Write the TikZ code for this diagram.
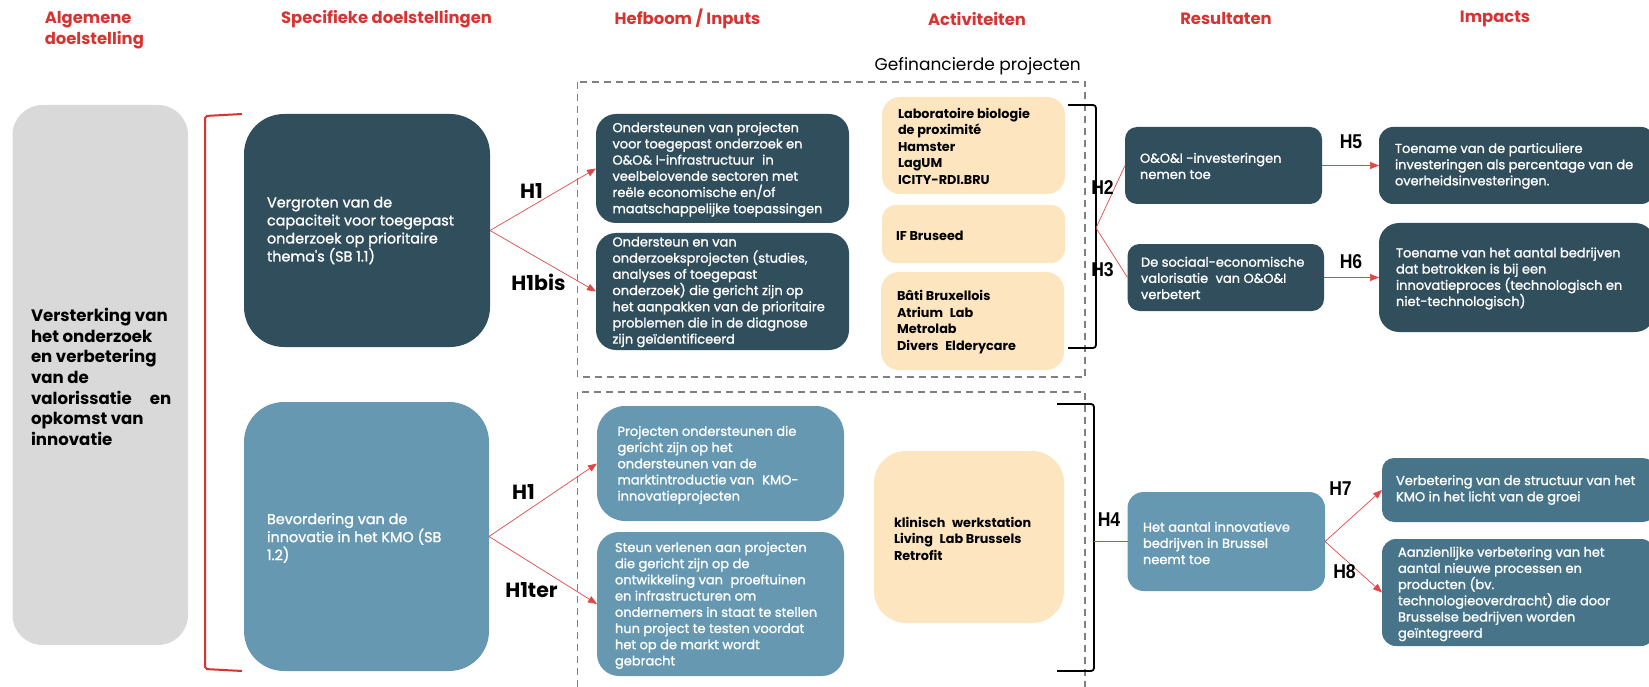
\documentclass[tikz,border=0pt]{standalone}
\usepackage{fontspec}
\setmainfont{Poppins}
\newfontfamily\wf{Poppins}[FakeBold=1.3]
\newfontfamily\hfont{Liberation Sans}[FakeStretch=0.88]
\usetikzlibrary{arrows.meta}
\definecolor{dteal}{RGB}{49,78,92}
\definecolor{lblue}{RGB}{102,153,177}
\definecolor{mteal}{RGB}{72,116,137}
\definecolor{beige}{RGB}{252,229,191}
\definecolor{lgray}{RGB}{217,217,217}
\definecolor{hred}{RGB}{214,52,50}
\definecolor{lred}{RGB}{222,72,72}
\definecolor{dgray}{RGB}{128,128,128}
\begin{document}
\begin{tikzpicture}[x=1pt,y=-1pt,
  bx/.style={rectangle, inner sep=0pt, outer sep=0pt},
  txt/.style={align=left, anchor=west, inner sep=0pt, outer sep=0pt},
  wsb/.style={txt, text=white, font=\wf\fontsize{14.4}{18}\selectfont},
  wa/.style={txt, text=white, font=\wf\fontsize{13}{16.2}\selectfont},
  bb/.style={txt, text=black, font=\bfseries\fontsize{12.8}{16.5}\selectfont},
  hdr/.style={text=hred, font=\bfseries\fontsize{16.4}{21}\selectfont, inner sep=0pt},
  hl/.style={font=\bfseries\fontsize{20.5}{22}\selectfont, inner sep=0pt},
  hn/.style={font=\hfont\bfseries\fontsize{20}{22}\selectfont, inner sep=0pt},
  conn/.style={draw=lred, line width=0.7pt},
  arr/.style={conn, -{Triangle[length=9pt,width=7pt]}},
  brk/.style={draw=black, line width=1.8pt, rounded corners=3pt},
  dbox/.style={draw=dgray, line width=1.1pt, dash pattern=on 7pt off 5pt},
]
\useasboundingbox (0,0) rectangle (1649,687);
\clip (0,0) rectangle (1649,687);

% headers
\node[hdr, align=left, anchor=west] (h0) at (44.6,30.5) {Algemene\\doelstelling};
\node[hdr] (h1) at (386.5,19) {Specifieke doelstellingen};
\node[hdr] (h2) at (687.5,19) {Hefboom / Inputs};
\node[hdr] (h3) at (977,19) {Activiteiten};
\node[hdr] (h4) at (1226,19) {Resultaten};
\node[hdr] (h5) at (1495,19) {Impacts};

% dashed frames
\draw[dbox] (577.5,82) rectangle (1085,377);
\draw[dbox] (577.5,392) rectangle (1085,700);
\node[font=\fontsize{17}{19}\selectfont, anchor=east, inner sep=0pt] (gp) at (1081,66) {Gefinancierde projecten};

% general objective
\node[bx, fill=lgray, rounded corners=30pt, minimum width=175.5pt, minimum height=540pt] (g) at (100.25,375) {};
\node[txt, font=\bfseries\fontsize{16.6}{20.7}\selectfont] (gt) at (31,377) {Versterking van\\het onderzoek\\en verbetering\\van de\\valorissatie\hspace{18pt}en\\opkomst van\\innovatie};

% red bracket
\draw[draw=hred, line width=2pt, rounded corners=2pt] (242,114) -- (205,116) -- (205,669) -- (242,671);

% specific objectives
\node[bx, fill=dteal, rounded corners=40pt, minimum width=246pt, minimum height=233pt] (sb1) at (367,230.5) {};
\node[wsb] (sb1t) at (267,230.5) {Vergroten van de\\capaciteit voor toegepast\\onderzoek op prioritaire\\thema's (SB 1.1)};
\node[bx, fill=lblue, rounded corners=40pt, minimum width=245pt, minimum height=269pt] (sb2) at (366.5,536.5) {};
\node[wsb] (sb2t) at (267,538) {Bevordering van de\\innovatie in het KMO (SB\\1.2)};

% inputs
\node[bx, fill=dteal, rounded corners=20pt, minimum width=253pt, minimum height=109pt] (a1) at (722.5,168.5) {};
\node[wa] (a1t) at (612.5,169.5) {Ondersteunen van projecten\\voor toegepast onderzoek en\\O\&O\& I-infrastructuur\hspace{8pt}in\\veelbelovende sectoren met\\reële economische en/of\\maatschappelijke toepassingen};
\node[bx, fill=dteal, rounded corners=20pt, minimum width=253pt, minimum height=117pt] (a2) at (722.5,291.5) {};
\node[wa] (a2t) at (612.5,292) {Ondersteun en van\\onderzoeksprojecten (studies,\\analyses of toegepast\\onderzoek) die gericht zijn op\\het aanpakken van de prioritaire\\problemen die in de diagnose\\zijn geïdentificeerd};
\node[bx, fill=lblue, rounded corners=28pt, minimum width=247pt, minimum height=115pt] (c1) at (720.5,463.5) {};
\node[wa] (c1t) at (617.5,465) {Projecten ondersteunen die\\gericht zijn op het\\ondersteunen van de\\marktintroductie van\hspace{8pt}KMO-\\innovatieprojecten};
\node[bx, fill=lblue, rounded corners=22pt, minimum width=247pt, minimum height=144pt] (c2) at (720.5,604) {};
\node[wa] (c2t) at (615,605.5) {Steun verlenen aan projecten\\die gericht zijn op de\\ontwikkeling van\hspace{4pt} proeftuinen\\en infrastructuren om\\ondernemers in staat te stellen\\hun project te testen voordat\\het op de markt wordt\\gebracht};

% activities
\node[bx, fill=beige, rounded corners=18pt, minimum width=183pt, minimum height=97pt] (b1) at (973.5,145.5) {};
\node[bb] (b1t) at (898,146) {Laboratoire biologie\\de proximité\\Hamster\\LagUM\\ICITY-RDI.BRU};
\node[bx, fill=beige, rounded corners=14pt, minimum width=183pt, minimum height=58pt] (b2) at (973.5,234) {};
\node[bb] (b2t) at (896,236) {IF Bruseed};
\node[bx, fill=beige, rounded corners=18pt, minimum width=183pt, minimum height=98pt] (b3) at (972.5,321) {};
\node[bb] (b3t) at (897,322) {Bâti Bruxellois\\Atrium\hspace{4pt} Lab\\Metrolab\\Divers\hspace{4pt} Elderycare};
\node[bx, fill=beige, rounded corners=32pt, minimum width=190pt, minimum height=172pt] (b4) at (969,537) {};
\node[bb] (b4t) at (894,538.5) {klinisch\hspace{4pt} werkstation\\Living\hspace{4pt} Lab Brussels\\Retrofit};

% brackets
\draw[brk] (1068,105) -- (1096,105) -- (1096,348) -- (1068,348);
\coordinate (br1) at (1096,228);
\draw[brk] (1057,404) -- (1094,404) -- (1094,671) -- (1057,671);
\coordinate (br2) at (1094,541.5);

% results
\node[bx, fill=dteal, rounded corners=12pt, minimum width=197pt, minimum height=77pt] (r1) at (1223.5,165.5) {};
\node[wa] (r1t) at (1140,166) {O\&O\&I -investeringen\\nemen toe};
\node[bx, fill=dteal, rounded corners=12pt, minimum width=196.5pt, minimum height=67pt] (r2) at (1225.75,277.5) {};
\node[wa] (r2t) at (1141,278) {De sociaal-economische\\valorisatie\hspace{4pt} van O\&O\&I\\verbetert};
\node[bx, fill=lblue, rounded corners=16pt, minimum width=197.5pt, minimum height=99pt] (r3) at (1226.25,541.5) {};
\node[wa] (r3t) at (1143,543) {Het aantal innovatieve\\bedrijven in Brussel\\neemt toe};

% impacts
\node[bx, fill=dteal, rounded corners=14pt, minimum width=276pt, minimum height=77pt] (i1) at (1517,165.5) {};
\node[wa] (i1t) at (1395,166) {Toename van de particuliere\\investeringen als percentage van de\\overheidsinvesteringen.};
\node[bx, fill=dteal, rounded corners=20pt, minimum width=276pt, minimum height=109pt] (i2) at (1517,277.5) {};
\node[wa] (i2t) at (1396,278.5) {Toename van het aantal bedrijven\\dat betrokken is bij een\\innovatieproces (technologisch en\\niet-technologisch)};
\node[bx, fill=mteal, rounded corners=12pt, minimum width=273pt, minimum height=64pt] (i3) at (1518.5,490) {};
\node[wa] (i3t) at (1396,490) {Verbetering van de structuur van het\\KMO in het licht van de groei};
\node[bx, fill=mteal, rounded corners=14pt, minimum width=273pt, minimum height=107pt] (i4) at (1518.5,592.5) {};
\node[wa] (i4t) at (1398,594) {Aanzienlijke verbetering van het\\aantal nieuwe processen en\\producten (bv.\\technologieoverdracht) die door\\Brusselse bedrijven worden\\geïntegreerd};

% connectors
\draw[arr] (sb1.east) -- (a1.west);
\draw[arr] (sb1.east) -- (a2.west);
\draw[arr] (sb2.east) -- (c1.west);
\draw[arr] (sb2.east) -- (c2.west);
\draw[conn] (br1) -- (r1.west);
\draw[conn] (br1) -- (r2.west);
\draw[conn] (br2) -- (r3.west);
\draw[arr] (r1.east) -- (i1.west);
\draw[arr] (r2.east) -- (i2.west);
\draw[arr] (r3.east) -- (i3.west);
\draw[arr] (r3.east) -- (i4.west);

% hypothesis labels
\node[hl] (lh1) at (531.5,191) {H1};
\node[hl] (lh1b) at (538.5,282) {H1bis};
\node[hl] (lh1c) at (523.5,492) {H1};
\node[hl] (lh1t) at (531.5,590) {H1ter};
\node[hn] (lh2) at (1102.5,188) {H2};
\node[hn] (lh3) at (1102.5,270) {H3};
\node[hn] (lh4) at (1109,520) {H4};
\node[hn] (lh5) at (1351,142) {H5};
\node[hn] (lh6) at (1351,262) {H6};
\node[hn] (lh7) at (1340.5,489) {H7};
\node[hn] (lh8) at (1344.5,572) {H8};
\end{tikzpicture}
\end{document}
